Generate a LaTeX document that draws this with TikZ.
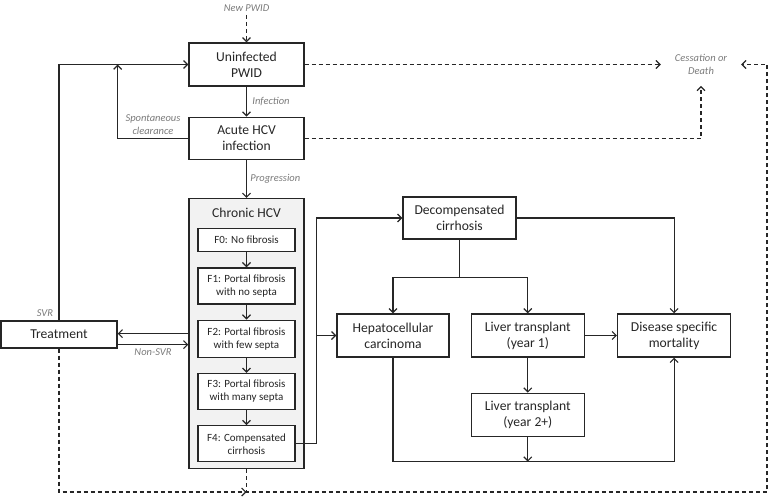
\documentclass[tikz,border=0pt]{standalone}
\usepackage{fontspec}
\setmainfont{Carlito}
\usepackage{tikz}
\usetikzlibrary{arrows.meta,positioning}
\definecolor{ink}{HTML}{262626}
\definecolor{note}{HTML}{7A7A7A}
\definecolor{panel}{HTML}{F2F2F2}

\begin{document}
\begin{tikzpicture}[
  x=1pt, y=1pt,
  node distance=15pt,
  box/.style={draw=ink, line width=1.3pt, fill=white, minimum width=113pt, minimum height=43pt, align=center, text=ink, font=\fontsize{13.6}{16}\selectfont},
  stage/.style={draw=ink, line width=1.3pt, fill=white, minimum width=97pt, minimum height=36pt, inner sep=1pt, align=center, text=ink, font=\fontsize{11}{13}\selectfont},
  group/.style={draw=ink, line width=1.3pt, fill=panel, minimum width=115pt, minimum height=270pt},
  note/.style={text=note, align=center, font=\fontsize{10.5}{13}\selectfont\itshape},
  link/.style={line width=1.2pt, draw=ink},
  arrow/.style={link, -{Straight Barb[length=4pt,width=8pt]}},
  flow/.style={arrow, dash pattern=on 4pt off 3pt}
]
\useasboundingbox (0,0) rectangle (777,-501);

\node[note] (newp) at (246.5,-8) {New PWID};
\node[box, minimum width=115pt] (unin) at (246.5,-64.5) {Uninfected\\PWID};
\node[box, minimum width=115pt, minimum height=42pt, below=30pt of unin] (acute) {Acute HCV\\infection};
\node[group, below=38pt of acute] (chronic) {};
\node[text=ink, font=\fontsize{13.6}{16}\selectfont] (chtitle) at ([yshift=-15pt]chronic.north) {Chronic HCV};
\node[stage, minimum height=23pt, below=30pt of chronic.north] (f0) {F0: No fibrosis};
\node[stage, below=of f0] (f1) {F1: Portal fibrosis\\with no septa};
\node[stage, minimum height=37pt, below=of f1] (f2) {F2: Portal fibrosis\\with few septa};
\node[stage, below=of f2] (f3) {F3: Portal fibrosis\\with many septa};
\node[stage, below=of f3] (f4) {F4: Compensated\\cirrhosis};
\node[box, minimum width=116pt, minimum height=27pt] (treat) at (59,-334.5) {Treatment};
\node[note, inner xsep=14pt, inner ysep=11pt] (cess) at (701,-64.5) {Cessation or\\Death};

\node[box, minimum width=112pt] (hcc) at (393,-335.5) {Hepatocellular\\carcinoma};
\node[box, right=21pt of hcc] (lt1) {Liver transplant\\(year 1)};
\node[box, right=32pt of lt1] (dsm) {Disease specific\\mortality};
\node[box, below=35pt of lt1] (lt2) {Liver transplant\\(year 2+)};
\node[box, minimum height=42pt] (decomp) at (459.5,-218) {Decompensated\\cirrhosis};

\draw[flow] (newp) -- (unin);
\draw[arrow] (unin) -- node[note, right, xshift=2pt]{Infection} (acute);
\draw[arrow] (acute) -- node[note, right]{Progression} (chronic);
\coordinate (sc) at (treat.east |- unin.west);
\draw[arrow] (acute.west) -- node[note, above]{Spontaneous\\clearance} (acute.west -| sc) -- (sc);
\draw[arrow] (treat.north) |- node[note, pos=0, above left, xshift=-2pt]{SVR} (unin.west);
\draw[arrow] (chronic.west) -- (chronic.west -| treat.east);
\coordinate (nsvr) at ([yshift=-11pt]chronic.west);
\draw[arrow] (nsvr -| treat.east) -- node[note, below]{Non-SVR} (nsvr);

\foreach \a/\b in {f0/f1, f1/f2, f2/f3, f3/f4}
  \draw[arrow] (\a) -- (\b);

\coordinate (br) at ([xshift=21pt]f4.east);
\draw[arrow] (f4.east) -- (br) |- (decomp.west);
\draw[arrow] (br |- hcc.west) -- (hcc.west);
\draw[link] (decomp.south) -- ++(0,-38) coordinate (split);
\draw[arrow] (split) -| (hcc.north);
\draw[arrow] (split) -| (lt1.north);
\draw[arrow] (decomp.east) -| (dsm.north);
\draw[arrow] (lt1) -- (dsm);
\draw[arrow] (lt1) -- (lt2);
\draw[arrow] (hcc.south) -- ++(0,-104) coordinate (base) -| (dsm.south);
\draw[arrow] (lt2.south) -- (lt2.south |- base);

\draw[flow] (unin.east) -- (cess);
\draw[flow] (acute.east) -| (cess.south);
\coordinate (rt) at (767,-492);
\draw[flow] (treat.south) |- (chronic.south |- rt);
\draw[flow] (chronic.south) |- (rt) |- (cess.east);
\end{tikzpicture}
\end{document}
